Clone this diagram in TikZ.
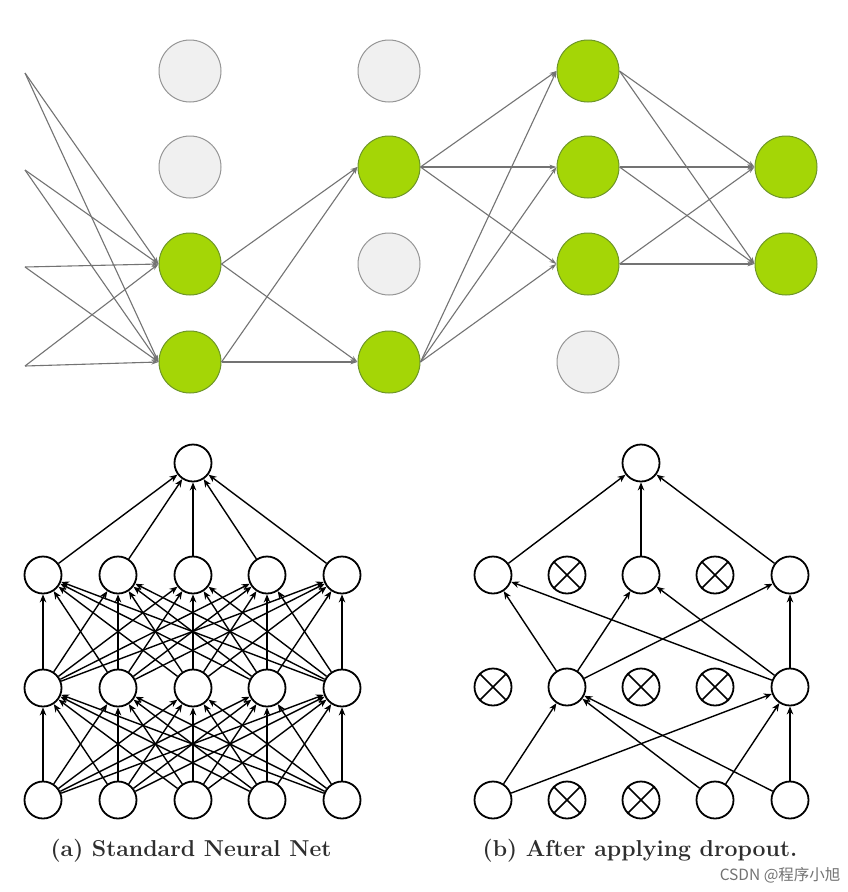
\documentclass[tikz,border=0pt]{standalone}
\usepackage{fontspec}
\newfontfamily\cjk{Noto Sans CJK SC}
\usetikzlibrary{arrows.meta}
\definecolor{greenf}{RGB}{164,214,6}
\definecolor{greenb}{RGB}{110,150,40}
\definecolor{grayf}{RGB}{240,240,240}
\definecolor{grayb}{RGB}{150,150,150}
\definecolor{lineg}{RGB}{115,115,115}
\begin{document}
\begin{tikzpicture}[x=1pt,y=-1pt,
  gnode/.style={circle,draw=greenb,fill=greenf,minimum size=62pt,inner sep=0pt,line width=1pt},
  onode/.style={circle,draw=grayb,fill=grayf,minimum size=62pt,inner sep=0pt,line width=1pt},
  garrow/.style={draw=lineg,line width=1.1pt,-{Stealth[length=7pt,width=4.5pt]}},
  bnode/.style={circle,draw=black,fill=white,minimum size=37pt,inner sep=0pt,line width=1.8pt},
  barrow/.style={draw=black,line width=1.4pt,-{Stealth[length=8pt,width=6.5pt]}},
  xline/.style={draw=black,line width=1.5pt},
  captext/.style={font=\fontsize{23}{27}\selectfont\bfseries,text=black!82,anchor=center}
]
\useasboundingbox[fill=white] (0,0) rectangle (847,892);

% ---------- top network ----------
\coordinate (in1) at (25,73);
\coordinate (in2) at (25,170);
\coordinate (in3) at (25,267);
\coordinate (in4) at (25,366);

\node[onode] (a1) at (190,71) {};
\node[onode] (a2) at (190,167) {};
\node[gnode] (a3) at (190,264) {};
\node[gnode] (a4) at (190,362) {};

\node[onode] (b1) at (389,71) {};
\node[gnode] (b2) at (389,167) {};
\node[onode] (b3) at (389,264) {};
\node[gnode] (b4) at (389,362) {};

\node[gnode] (c1) at (588,71) {};
\node[gnode] (c2) at (588,167) {};
\node[gnode] (c3) at (588,264) {};
\node[onode] (c4) at (588,362) {};

\node[gnode] (d1) at (786,167) {};
\node[gnode] (d2) at (786,264) {};

\foreach \s in {in1,in2,in3,in4}
  \foreach \t in {a3,a4}
    \draw[garrow] (\s) -- (\t.west);
\foreach \s in {a3,a4}
  \foreach \t in {b2,b4}
    \draw[garrow] (\s.east) -- (\t.west);
\foreach \s in {b2,b4}
  \foreach \t in {c1,c2,c3}
    \draw[garrow] (\s.east) -- (\t.west);
\foreach \s in {c1,c2,c3}
  \foreach \t in {d1,d2}
    \draw[garrow] (\s.east) -- (\t.west);

% ---------- (a) standard net ----------
\foreach \x [count=\c] in {43,118,193,267,342} {
  \node[bnode] (ai\c) at (\x,800) {};
  \node[bnode] (ah\c) at (\x,688) {};
  \node[bnode] (ag\c) at (\x,575) {};
}
\node[bnode] (ao) at (193,463) {};
\foreach \s in {1,...,5} {
  \foreach \t in {1,...,5} {
    \draw[barrow] (ai\s) -- (ah\t);
    \draw[barrow] (ah\s) -- (ag\t);
  }
  \draw[barrow] (ag\s) -- (ao);
}

% ---------- (b) dropout net ----------
\node[bnode] (bo) at (641,463) {};
\node[bnode] (g1) at (493,575) {};
\node[bnode] (g2) at (567,575) {};
\node[bnode] (g3) at (641,575) {};
\node[bnode] (g4) at (715,575) {};
\node[bnode] (g5) at (790,575) {};
\node[bnode] (h1) at (493,687) {};
\node[bnode] (h2) at (567,687) {};
\node[bnode] (h3) at (641,687) {};
\node[bnode] (h4) at (715,687) {};
\node[bnode] (h5) at (790,687) {};
\node[bnode] (j1) at (493,800) {};
\node[bnode] (j2) at (567,800) {};
\node[bnode] (j3) at (641,800) {};
\node[bnode] (j4) at (715,800) {};
\node[bnode] (j5) at (790,800) {};
\foreach \n in {g2,g4,h1,h3,h4,j2,j3}
  \draw[xline] (\n.north east) -- (\n.south west) (\n.north west) -- (\n.south east);

\foreach \s in {g1,g3,g5} \draw[barrow] (\s) -- (bo);
\foreach \s in {h2,h5}
  \foreach \t in {g1,g3,g5}
    \draw[barrow] (\s) -- (\t);
\foreach \s in {j1,j4,j5}
  \foreach \t in {h2,h5}
    \draw[barrow] (\s) -- (\t);

% ---------- captions ----------
\node[captext] (capa) at (191,851) {(a) Standard Neural Net};
\node[captext] (capb) at (640,851) {(b) After applying dropout.};
\node[font=\cjk\fontsize{15.5}{18}\selectfont,text=black!55,anchor=east] (wm) at (844,875) {CSDN @程序小旭};
\end{tikzpicture}
\end{document}
